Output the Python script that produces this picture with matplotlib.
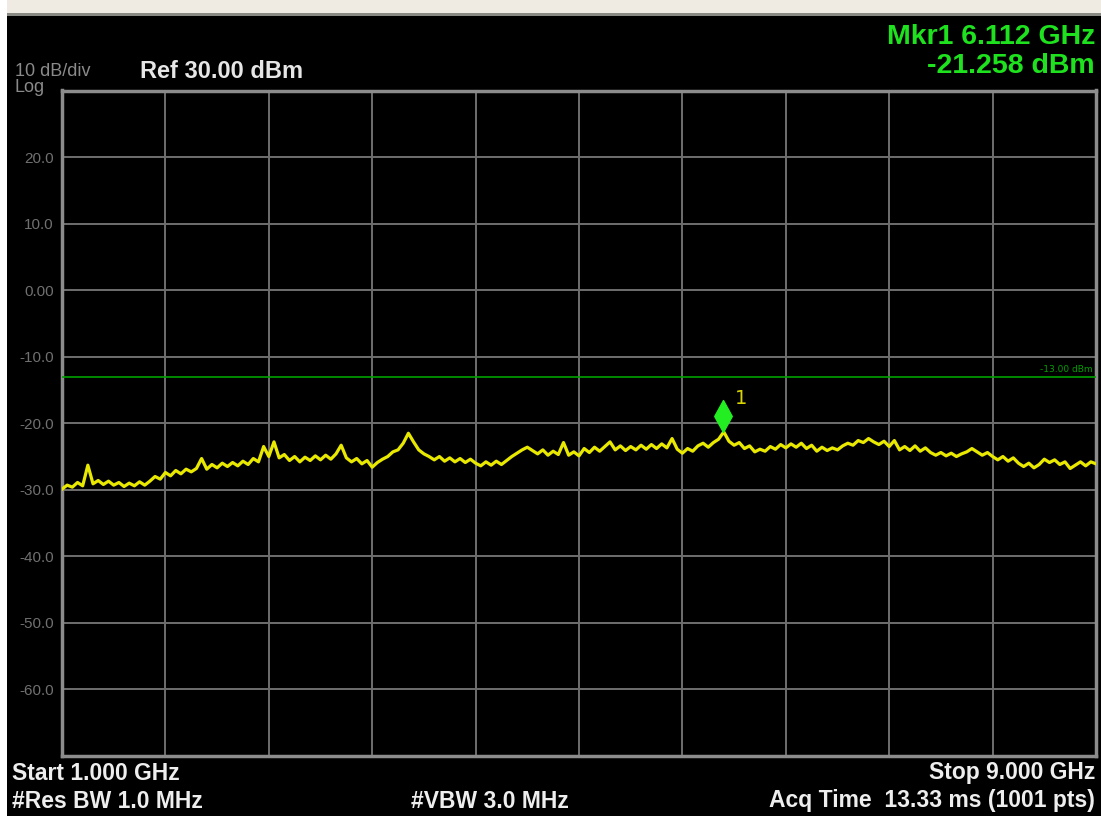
import numpy as np
import matplotlib
matplotlib.use("Agg")
import matplotlib.pyplot as plt
from matplotlib.path import Path
from matplotlib.patches import Rectangle
import matplotlib.transforms as mtransforms

# Sweep settings of the analyzer screen
START_GHZ = 1.0
STOP_GHZ = 9.0
REF_LEVEL = 30.0
DB_PER_DIV = 10.0
LIMIT_LINE = -13.0
MKR_FREQ = 6.112
MKR_AMP = -21.258

# Trace values (dBm), one every 0.04 GHz from 1 to 9 GHz
trace_dbm = [
    -29.9, -29.3, -29.6, -28.9, -29.4, -26.3, -29.1, -28.6, -29.2, -28.7,
    -29.3, -28.9, -29.5, -29.0, -29.4, -28.8, -29.3, -28.7, -28.0, -28.4,
    -27.4, -27.9, -27.1, -27.6, -26.9, -27.3, -26.8, -25.3, -26.9, -26.2,
    -26.7, -26.0, -26.5, -25.9, -26.4, -25.7, -26.2, -25.3, -25.8, -23.5,
    -25.0, -22.8, -25.2, -24.7, -25.6, -25.0, -25.8, -25.1, -25.6, -24.9,
    -25.5, -24.8, -25.4, -24.6, -23.3, -25.2, -25.8, -25.3, -26.1, -25.6,
    -26.6, -25.9, -25.4, -25.0, -24.3, -24.0, -23.0, -21.5, -22.8, -24.0,
    -24.6, -25.0, -25.5, -25.0, -25.7, -25.2, -25.8, -25.3, -25.9, -25.4,
    -26.0, -26.4, -25.8, -26.3, -25.7, -26.2, -25.6, -25.0, -24.5, -24.0,
    -23.6, -24.1, -24.6, -24.0, -24.8, -24.2, -24.7, -22.9, -24.8, -24.3,
    -24.9, -23.8, -24.4, -23.6, -24.2, -23.5, -22.8, -24.0, -23.4, -24.1,
    -23.5, -24.0, -23.3, -23.9, -23.2, -23.8, -23.1, -23.7, -22.3, -23.9,
    -24.5, -23.8, -24.2, -23.4, -23.0, -23.6, -22.9, -22.4, -21.3, -22.7,
    -23.3, -22.9, -23.8, -23.4, -24.3, -23.9, -24.2, -23.5, -23.9, -23.2,
    -23.7, -23.1, -23.6, -23.0, -23.8, -23.3, -24.2, -23.6, -24.1, -23.7,
    -24.0, -23.4, -23.0, -23.3, -22.6, -22.9, -22.3, -22.8, -23.2, -22.7,
    -23.5, -22.6, -24.0, -23.5, -24.1, -23.4, -24.2, -23.7, -24.4, -24.8,
    -24.4, -24.9, -24.5, -25.0, -24.6, -24.3, -23.8, -24.3, -24.8, -24.4,
    -25.0, -25.5, -25.0, -25.7, -25.2, -26.0, -26.5, -26.0, -26.7, -26.2,
    -25.4, -25.9, -25.5, -26.2, -25.8, -26.8, -26.3, -25.8, -26.4, -25.8,
    -26.1,
]
freq_ghz = np.linspace(START_GHZ, STOP_GHZ, len(trace_dbm))

# Y axis labels as the instrument prints them
y_labels = ["", "-60.0", "-50.0", "-40.0", "-30.0", "-20.0", "-10.0", "0.00", "10.0", "20.0", ""]

W, H = 1101, 816
fig = plt.figure(figsize=(W / 100, H / 100), dpi=100, facecolor="black")

# window chrome: white strip on top and left edge
fig.patches.append(Rectangle((0, 1 - 13 / H), 1, 13 / H, transform=fig.transFigure,
                             facecolor="#efebe3", edgecolor="none", zorder=0))
fig.patches.append(Rectangle((0, 1 - 16 / H), 1, 3 / H, transform=fig.transFigure,
                             facecolor="#8a8a84", edgecolor="none", zorder=0))
fig.patches.append(Rectangle((0, 0), 7 / W, 1, transform=fig.transFigure,
                             facecolor="white", edgecolor="none", zorder=0))

ax = fig.add_axes([62 / W, 60 / H, 1034 / W, 665.5 / H], facecolor="black")

ax.set_xlim(START_GHZ, STOP_GHZ)
ax.set_ylim(REF_LEVEL - 10 * DB_PER_DIV, REF_LEVEL)
ax.set_xticks(np.linspace(START_GHZ, STOP_GHZ, 11))
ax.set_xticklabels([])
ax.set_yticks(np.arange(REF_LEVEL - 10 * DB_PER_DIV, REF_LEVEL + 1, DB_PER_DIV))
ax.set_yticklabels(y_labels, color="#707070", fontsize=11, family="Liberation Sans")
ax.tick_params(length=0, pad=6)
ax.grid(color="#6e6e6e", linewidth=1.4)
for s in ax.spines.values():
    s.set_color("#8c8c8c")
    s.set_linewidth(2.5)

# limit line
ax.axhline(LIMIT_LINE, color="#00a000", linewidth=1.2, zorder=3)
ax.text(0.997, LIMIT_LINE + 0.4, "-13.00 dBm", color="#00a000", fontsize=6.5,
        ha="right", va="bottom", transform=ax.get_yaxis_transform())

# trace
ax.plot(freq_ghz, trace_dbm, color="#e8e800", linewidth=2.3, zorder=4)

# marker diamond sitting on top of the marker point
diamond = Path([(0, -1), (0.55, 0), (0, 1), (-0.55, 0), (0, -1)])
up = mtransforms.offset_copy(ax.transData, fig=fig, x=0, y=11.5, units="points")
ax.plot([MKR_FREQ], [MKR_AMP], marker=diamond, markersize=23, color="#22ee22",
        linestyle="none", transform=up, zorder=5)
lab = mtransforms.offset_copy(ax.transData, fig=fig, x=9, y=24, units="points")
ax.text(MKR_FREQ, MKR_AMP, "1", color="#d8d400", fontsize=14, transform=lab,
        ha="left", va="center", zorder=5)

bold = dict(family="Liberation Sans", fontweight="bold")

# header text
fig.text(15 / W, 1 - 72 / H, "10 dB/div", color="#8a8a8a", fontsize=13,
         family="Liberation Sans", va="center")
fig.text(15 / W, 1 - 88 / H, "Log", color="#8a8a8a", fontsize=13,
         family="Liberation Sans", va="center")
fig.text(140 / W, 1 - 71 / H, f"Ref {REF_LEVEL:.2f} dBm", color="#e6e6e6", fontsize=17, va="center", **bold)
fig.text(1095 / W, 1 - 37 / H, f"Mkr1 {MKR_FREQ:.3f} GHz", color="#1fe21f", fontsize=20.5,
         ha="right", va="center", **bold)
fig.text(1095 / W, 1 - 66 / H, f"{MKR_AMP:.3f} dBm", color="#1fe21f", fontsize=20.5,
         ha="right", va="center", **bold)

# footer text
foot = dict(color="#eeeeee", fontsize=16.5, va="center", **bold)
fig.text(12 / W, 1 - 773 / H, f"Start {START_GHZ:.3f} GHz", **foot)
fig.text(12 / W, 1 - 801 / H, "#Res BW 1.0 MHz", **foot)
fig.text(490 / W, 1 - 801 / H, "#VBW 3.0 MHz", ha="center", **foot)
fig.text(1095 / W, 1 - 773 / H, f"Stop {STOP_GHZ:.3f} GHz", ha="right", **foot)
fig.text(1095 / W, 1 - 801 / H, "Acq Time  13.33 ms (1001 pts)", ha="right", **foot)

fig.savefig("out.png", dpi=100, facecolor="black")
